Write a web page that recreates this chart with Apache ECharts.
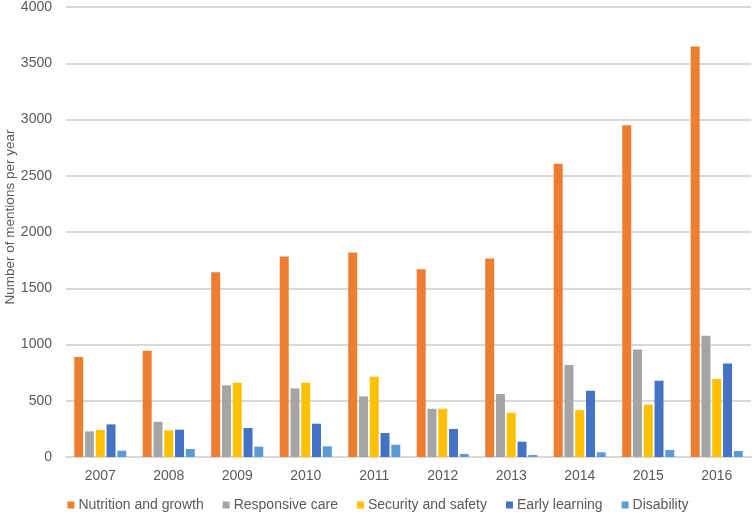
<!DOCTYPE html>
<html>
<head>
<meta charset="utf-8">
<script src="https://cdn.jsdelivr.net/npm/echarts@6/dist/echarts.min.js"></script>
<style>html,body{margin:0;padding:0;background:#fff}#c{width:756px;height:521px}</style>
</head>
<body>
<div id="c"></div>
<script>
const years = ['2007','2008','2009','2010','2011','2012','2013','2014','2015','2016'];
const nutrition = [888, 944, 1643, 1782, 1818, 1670, 1765, 2607, 2948, 3650];
const responsive = [228, 313, 637, 610, 539, 429, 560, 817, 956, 1077];
const security = [240, 237, 660, 660, 713, 429, 393, 417, 465, 693];
const learning = [290, 243, 258, 296, 213, 249, 136, 589, 678, 832];
const disability = [56, 71, 92, 95, 109, 27, 18, 42, 62, 53];
const seriesNames = ['Nutrition and growth','Responsive care','Security and safety','Early learning','Disability'];
const colors = ['#ED7D31','#A5A5A5','#FFC000','#4472C4','#5B9BD5'];
const yTicks = {min:0, max:4000, interval:500};

const font = '"Liberation Sans", sans-serif';
const data = [nutrition, responsive, security, learning, disability];
const chart = echarts.init(document.getElementById('c'));
chart.setOption({
  animation:false,
  textStyle:{fontFamily:font},
  color: colors,
  grid:{left:66, right:5, top:7, bottom:64, containLabel:false, outerBoundsMode:'none'},
  legend:{
    bottom:4, left:'center', itemWidth:7, itemHeight:7, itemGap:19,
    icon:'rect',
    textStyle:{color:'#595959', fontSize:14, fontFamily:font, padding:[0,0,0,-1]},
    data: seriesNames
  },
  xAxis:{
    type:'category', data: years,
    axisLine:{lineStyle:{color:'#D9D9D9', width:2}},
    axisTick:{show:false},
    axisLabel:{color:'#595959', fontSize:14, margin:12, fontFamily:font}
  },
  yAxis:{
    type:'value', min:yTicks.min, max:yTicks.max, interval:yTicks.interval,
    name:'Number of mentions per year', nameLocation:'middle', nameGap:49,
    nameMoveOverlap:false,
    nameTextStyle:{color:'#595959', fontSize:13.5, fontFamily:font, padding:[0,0,0,30]},
    axisLine:{show:false}, axisTick:{show:false},
    axisLabel:{color:'#595959', fontSize:14, margin:14, fontFamily:font, formatter:(v)=>String(v)},
    splitLine:{lineStyle:{color:'#D9D9D9', width:2}}
  },
  series: seriesNames.map((n,i)=>({
    name:n, type:'bar', data:data[i],
    barGap:'20%', barCategoryGap:'24%',
    itemStyle:{color:colors[i]}
  }))
});
</script>
</body>
</html>
